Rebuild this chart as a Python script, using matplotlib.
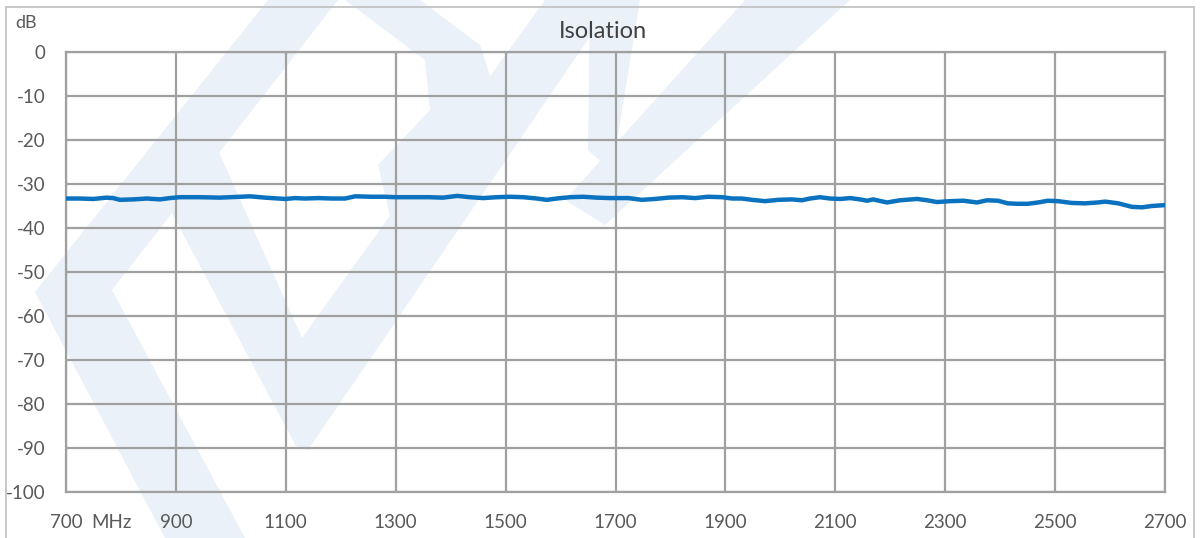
import matplotlib
matplotlib.use("Agg")
from matplotlib import pyplot as plt
import matplotlib.patches as mpatches

freq_mhz = [700, 725, 750, 774, 786, 798, 822, 847, 871, 889, 907, 944, 980, 1017,
            1035, 1062, 1099, 1117, 1135, 1159, 1184, 1208, 1226, 1257, 1281, 1299,
            1330, 1362, 1386, 1412, 1435, 1459, 1484, 1508, 1532, 1557, 1575, 1593,
            1617, 1641, 1666, 1690, 1723, 1748, 1772, 1796, 1821, 1845, 1868, 1894,
            1912, 1930, 1948, 1972, 1996, 2021, 2039, 2054, 2072, 2090, 2109, 2127,
            2145, 2158, 2169, 2194, 2218, 2249, 2267, 2285, 2309, 2333, 2358, 2376,
            2396, 2414, 2432, 2450, 2469, 2487, 2505, 2530, 2554, 2578, 2591, 2615,
            2640, 2658, 2676, 2700]
isolation_db = [-33.3, -33.3, -33.4, -33.1, -33.2, -33.6, -33.5, -33.3, -33.5, -33.2,
                -33.0, -33.0, -33.1, -32.9, -32.8, -33.1, -33.4, -33.2, -33.3, -33.2,
                -33.3, -33.3, -32.8, -32.9, -32.9, -33.0, -33.0, -33.0, -33.1, -32.7,
                -33.0, -33.2, -33.0, -32.9, -33.0, -33.3, -33.6, -33.3, -33.0, -32.9,
                -33.1, -33.2, -33.2, -33.6, -33.4, -33.1, -33.0, -33.2, -32.9, -33.0,
                -33.3, -33.3, -33.6, -33.9, -33.6, -33.5, -33.7, -33.3, -33.0, -33.3,
                -33.4, -33.2, -33.5, -33.8, -33.5, -34.2, -33.7, -33.4, -33.7, -34.1,
                -33.9, -33.8, -34.2, -33.7, -33.8, -34.4, -34.5, -34.5, -34.2, -33.8,
                -33.9, -34.3, -34.4, -34.2, -34.0, -34.4, -35.2, -35.3, -35.0, -34.8]

x_ticks = [700, 900, 1100, 1300, 1500, 1700, 1900, 2100, 2300, 2500, 2700]
x_labels = ["700", "900", "1100", "1300", "1500", "1700", "1900", "2100", "2300", "2500", "2700"]
y_ticks = [0, -10, -20, -30, -40, -50, -60, -70, -80, -90, -100]

W, H = 1200, 538
plt.rcParams['font.family'] = ['Lato', 'DejaVu Sans']
plt.rcParams['axes.unicode_minus'] = False
fig = plt.figure(figsize=(12, 5.38), dpi=100)

def px(pts):
    return [(a / W, 1 - b / H) for a, b in pts]

# faint logo watermark behind the chart
wm = '#eaf1f8'
shapes = [
    # outer "<"
    [(268, 0), (338, 0), (112, 290), (245, 538), (165, 538), (35, 292)],
    # inner V with its tip near the bottom
    [(150, 172), (218, 150), (302, 338), (545, 0), (615, 0), (308, 450), (296, 446)],
    # bowl
    [(345, 0), (420, 0), (480, 45), (498, 100), (470, 165), (398, 250), (378, 165),
     (430, 110), (425, 60)],
    # small notch
    [(590, 0), (640, 0), (612, 172), (588, 150)],
    # right band
    [(745, 0), (850, 0), (605, 225), (565, 200)],
]
for s in shapes:
    fig.patches.append(mpatches.Polygon(px(s), closed=True, transform=fig.transFigure,
                                        fc=wm, ec='none', zorder=-2))
# chart border
fig.patches.append(mpatches.Rectangle((6 / W, -0.1), 1188 / W, 1 - 7 / H + 0.1,
                                      transform=fig.transFigure, fill=False,
                                      ec='#bfbfbf', lw=1.2, zorder=-1))

ax = fig.add_axes([66 / W, 1 - 492 / H, 1099 / W, 440 / H])
ax.set_facecolor('none')
ax.plot(freq_mhz, isolation_db, color='#0b72bf', lw=3.2, solid_capstyle='round', zorder=3)

ax.set_xlim(700, 2700)
ax.set_ylim(-100, 0)
ax.set_xticks(x_ticks)
ax.set_xticklabels(x_labels)
ax.set_yticks(y_ticks)
ax.grid(True, color='#a0a0a0', lw=1.6)
for sp in ax.spines.values():
    sp.set_color('#a0a0a0')
    sp.set_linewidth(1.6)
ax.tick_params(length=0, labelsize=13.5, labelcolor='#595959')
ax.tick_params(axis='x', pad=16)
ax.tick_params(axis='y', pad=15)

fig.text(91 / W, 1 - 522 / H, "MHz", fontsize=13.5, color='#595959', va='center', ha='left')
fig.text(15 / W, 1 - 23 / H, "dB", fontsize=13, color='#595959', va='center', ha='left')
fig.text(603 / W, 1 - 31 / H, "Isolation", fontsize=17, color='#404040', va='center', ha='center')

fig.savefig("out.png", dpi=100)
